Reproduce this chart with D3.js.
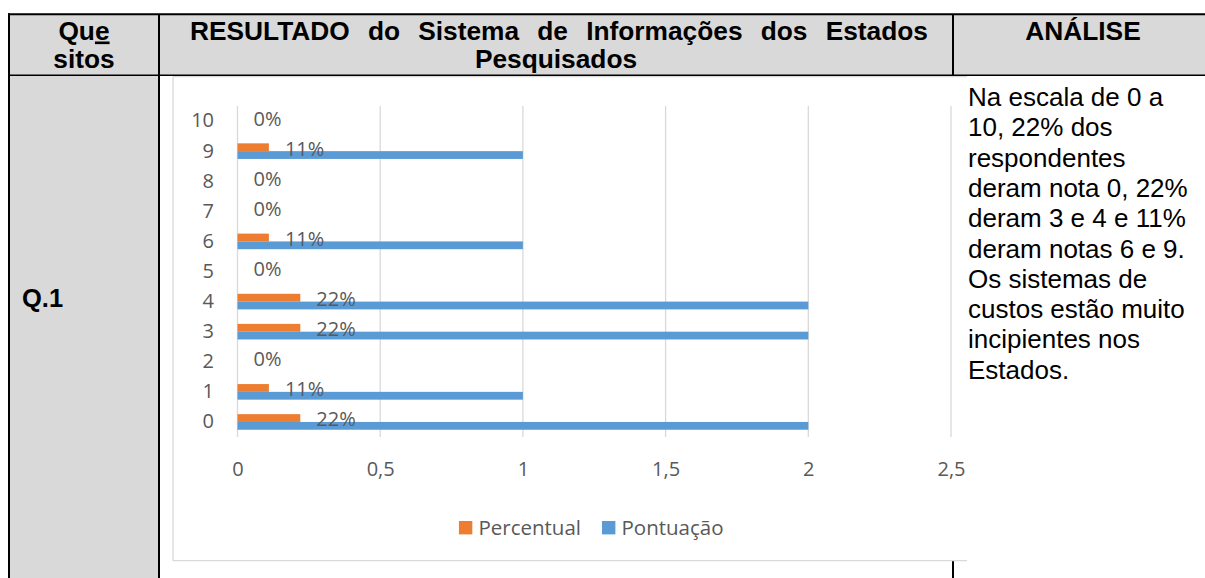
<!DOCTYPE html>
<html>
<head>
<meta charset="utf-8">
<script src="https://cdn.jsdelivr.net/npm/d3@7"></script>
<style>
  html, body { margin: 0; padding: 0; background: #fff; }
  svg { display: block; }
</style>
</head>
<body>
<div id="chart"></div>
<script>
// ── Data ─────────────────────────────────────────────────────────────────
const categories = ['0', '1', '2', '3', '4', '5', '6', '7', '8', '9', '10'];
const pontuacao  = [2, 1, 0, 2, 2, 0, 1, 0, 0, 1, 0];
const percentual = [0.22, 0.11, 0, 0.22, 0.22, 0, 0.11, 0, 0, 0.11, 0];
const seriesNames = ['Percentual', 'Pontuação'];
const xTicks = [0, 0.5, 1, 1.5, 2, 2.5];

const headerCol1 = ['Que', 'sitos'];
const headerCol2 = ['RESULTADO do Sistema de Informações dos Estados', 'Pesquisados'];
const headerCol3 = 'ANÁLISE';
const rowLabel = 'Q.1';
const analysisLines = [
    'Na escala de 0 a', '10, 22% dos', 'respondentes', 'deram nota 0, 22%',
    'deram 3 e 4 e 11%', 'deram notas 6 e 9.', 'Os sistemas de',
    'custos estão muito', 'incipientes nos', 'Estados.'
];

const colors = { 'Percentual': '#ED7D31', 'Pontuação': '#5B9BD5' };
const textGray = '#595959';
const chartFont = '"Open Sans", sans-serif';
const tableFont = '"Liberation Sans", Arial, sans-serif';

const W = 1205, H = 578;
const svg = d3.select('#chart').append('svg').attr('width', W).attr('height', H);

// ── Table background ───────────────────────────────────────────────────────
svg.append('rect').attr('x', 9).attr('y', 14).attr('width', W - 9).attr('height', 62).attr('fill', '#D9D9D9');
svg.append('rect').attr('x', 9).attr('y', 76).attr('width', 150).attr('height', H - 76).attr('fill', '#D9D9D9');

// table borders
const border = (x1, y1, x2, y2, w) => svg.append('line')
    .attr('x1', x1).attr('y1', y1).attr('x2', x2).attr('y2', y2)
    .attr('stroke', '#000').attr('stroke-width', w);
border(8, 14.3, W, 14.3, 2);        // top
border(9, 13.3, 9, H, 2);           // left
border(159, 14, 159, H, 2);         // col1 | col2
border(953, 14, 953, H, 2);         // col2 | col3
border(8, 75.3, W, 75.3, 1.5);      // header bottom

// header text
const hdr = svg.append('g').style('font-family', tableFont).style('font-weight', 700)
    .style('font-size', '26.3px').attr('fill', '#000').attr('text-anchor', 'middle');
const q = hdr.append('text').attr('x', 84).attr('y', 39.5);
q.append('tspan').text('Qu');
q.append('tspan').style('text-decoration', 'underline').text('e');
hdr.append('text').attr('x', 84).attr('y', 67.5).text(headerCol1[1]);
// first line is justified in the cell (wrapped line): stretch word gaps to 190..928
const line1 = hdr.append('text').attr('x', 190).attr('y', 39.5).attr('text-anchor', 'start').text(headerCol2[0]);
const natural = line1.node().getComputedTextLength();
const gaps = headerCol2[0].split(' ').length - 1;
line1.style('word-spacing', ((738 - natural) / gaps) + 'px');
hdr.append('text').attr('x', 556).attr('y', 67.5).text(headerCol2[1]);
hdr.append('text').attr('x', 1083).attr('y', 39.5).text(headerCol3);

svg.append('text').attr('x', 22).attr('y', 307)
    .style('font-family', tableFont).style('font-weight', 700).style('font-size', '25.5px')
    .text(rowLabel);

// ── Chart box ─────────────────────────────────────────────────────────────
const box = { x0: 173, y0: 76.7, x1: 967, y1: 560.7 };
svg.append('rect').attr('x', box.x0).attr('y', box.y0)
    .attr('width', box.x1 - box.x0).attr('height', box.y1 - box.y0).attr('fill', '#fff');
[[box.x0, box.y0, box.x1, box.y0], [box.x0, box.y0, box.x0, box.y1], [box.x0, box.y1, box.x1, box.y1]]
    .forEach(s => svg.append('line')
        .attr('x1', s[0]).attr('y1', s[1]).attr('x2', s[2]).attr('y2', s[3])
        .attr('stroke', '#D9D9D9').attr('stroke-width', 1.3));

// ── Scales ────────────────────────────────────────────────────────────────
const plot = { left: 237.5, right: 951, top: 106, bottom: 437 };
const x = d3.scaleLinear().domain([0, 2.5]).range([plot.left, plot.right]);
const y = d3.scaleBand().domain(categories.slice().reverse()).range([plot.top, plot.bottom]);
const inner = d3.scaleBand().domain(seriesNames).range([0, y.bandwidth()]).paddingOuter(0.93);

const locale = d3.formatLocale({ decimal: ',', thousands: '.', grouping: [3], currency: ['R$', ''] });
const fmtTick = v => locale.format('~g')(v);
const fmtPct = locale.format('.0%');

const g = svg.append('g').style('font-family', chartFont);

// gridlines
g.selectAll('.grid').data(xTicks).join('line')
    .attr('x1', d => x(d)).attr('x2', d => x(d))
    .attr('y1', plot.top).attr('y2', plot.bottom)
    .attr('stroke', '#D9D9D9').attr('stroke-width', 1.3);

// bars
const rows = categories.map((c, i) => ({ cat: c, 'Percentual': percentual[i], 'Pontuação': pontuacao[i] }));
seriesNames.forEach(s => {
    g.selectAll('.bar-' + s).data(rows).join('rect')
        .attr('x', x(0))
        .attr('y', d => y(d.cat) + inner(s))
        .attr('width', d => x(d[s]) - x(0))
        .attr('height', inner.bandwidth())
        .attr('fill', colors[s]);
});

// data labels (percentual)
g.selectAll('.lbl').data(rows).join('text')
    .attr('x', d => x(d['Percentual']) + 16)
    .attr('y', d => y(d.cat) + inner('Percentual') + inner.bandwidth() / 2 + 1.4)
    .attr('dy', '0.35em')
    .attr('fill', textGray).style('font-size', '20px')
    .text(d => fmtPct(d['Percentual']));

// axes
const xAxis = g.append('g').attr('transform', 'translate(0,' + plot.bottom + ')')
    .call(d3.axisBottom(x).tickValues(xTicks).tickFormat(fmtTick).tickSize(0).tickPadding(25));
const yAxis = g.append('g').attr('transform', 'translate(' + plot.left + ',0)')
    .call(d3.axisLeft(y).tickSize(0).tickPadding(23.5));
[xAxis, yAxis].forEach(a => {
    a.select('.domain').remove();
    a.selectAll('text').attr('fill', textGray).style('font-size', '20px').style('font-family', chartFont);
});

// legend: second swatch sits at x=602 in the reference
const legend = g.append('g');
let lx = 0, swatchX = [];
seriesNames.forEach(s => {
    const item = legend.append('g').attr('transform', 'translate(' + lx + ',0)');
    swatchX.push(lx);
    item.append('rect').attr('x', 0).attr('y', -6.7).attr('width', 13.4).attr('height', 13.4).attr('fill', colors[s]);
    const t = item.append('text').attr('x', 19.5).attr('dy', '0.35em')
        .attr('fill', textGray).style('font-size', '20.5px').text(s);
    lx += 19.5 + t.node().getComputedTextLength() + 21;
});
legend.attr('transform', 'translate(' + (602 - swatchX[1]) + ',527.7)');

// ── Analysis text ────────────────────────────────────────────────────────
const an = svg.append('g').style('font-family', tableFont).style('font-size', '26px').attr('fill', '#000');
analysisLines.forEach((t, i) => an.append('text').attr('x', 968).attr('y', 106 + i * 30.3).text(t));
</script>
</body>
</html>
